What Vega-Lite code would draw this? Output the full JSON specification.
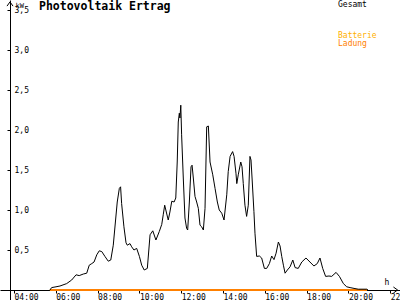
{
  "$schema": "https://vega.github.io/schema/vega-lite/v6.json",
  "width": 400,
  "height": 300,
  "autosize": {"type": "none"},
  "padding": 0,
  "background": "white",
  "config": {"view": {"stroke": null}, "font": "DejaVu Sans Mono"},
  "title": {"text": "Photovoltaik Ertrag", "anchor": "start", "frame": "group", "orient": "top", "offset": 0, "dx": 39, "dy": 13, "baseline": "top", "font": "DejaVu Sans Mono", "fontSize": 11.5, "fontWeight": "bold", "color": "black"},
  "datasets": {
    "gesamt": [
      {"t":5.72,"kw":0},{"t":5.80,"kw":0.03},{"t":6.01,"kw":0.04},{"t":6.20,"kw":0.05},{"t":6.52,"kw":0.08},{"t":6.76,"kw":0.125},{"t":6.97,"kw":0.19},{"t":7.12,"kw":0.18},{"t":7.32,"kw":0.20},{"t":7.48,"kw":0.21},{"t":7.60,"kw":0.31},{"t":7.72,"kw":0.33},{"t":7.83,"kw":0.35},{"t":7.96,"kw":0.44},{"t":8.08,"kw":0.49},{"t":8.20,"kw":0.48},{"t":8.35,"kw":0.42},{"t":8.51,"kw":0.36},{"t":8.63,"kw":0.375},{"t":8.75,"kw":0.56},{"t":8.94,"kw":1.10},{"t":9.04,"kw":1.27},{"t":9.10,"kw":1.29},{"t":9.15,"kw":1.08},{"t":9.26,"kw":0.79},{"t":9.36,"kw":0.59},{"t":9.42,"kw":0.56},{"t":9.55,"kw":0.58},{"t":9.63,"kw":0.54},{"t":9.74,"kw":0.50},{"t":9.87,"kw":0.52},{"t":10.00,"kw":0.42},{"t":10.11,"kw":0.31},{"t":10.23,"kw":0.25},{"t":10.38,"kw":0.27},{"t":10.51,"kw":0.69},{"t":10.64,"kw":0.74},{"t":10.79,"kw":0.625},{"t":10.95,"kw":0.73},{"t":11.07,"kw":0.82},{"t":11.14,"kw":0.94},{"t":11.21,"kw":1.06},{"t":11.31,"kw":0.95},{"t":11.38,"kw":0.875},{"t":11.46,"kw":0.975},{"t":11.55,"kw":1.11},{"t":11.66,"kw":1.10},{"t":11.74,"kw":1.15},{"t":11.81,"kw":1.60},{"t":11.86,"kw":2.10},{"t":11.91,"kw":2.21},{"t":11.94,"kw":2.15},{"t":11.98,"kw":2.31},{"t":12.02,"kw":1.94},{"t":12.10,"kw":1.40},{"t":12.18,"kw":0.90},{"t":12.26,"kw":0.77},{"t":12.31,"kw":0.75},{"t":12.39,"kw":1.10},{"t":12.47,"kw":1.54},{"t":12.52,"kw":1.56},{"t":12.58,"kw":1.40},{"t":12.66,"kw":1.17},{"t":12.74,"kw":1.10},{"t":12.82,"kw":1.02},{"t":12.90,"kw":0.81},{"t":12.98,"kw":0.79},{"t":13.06,"kw":0.75},{"t":13.14,"kw":1.02},{"t":13.22,"kw":2.04},{"t":13.30,"kw":2.05},{"t":13.38,"kw":1.60},{"t":13.51,"kw":1.44},{"t":13.62,"kw":1.27},{"t":13.73,"kw":1.10},{"t":13.82,"kw":1.00},{"t":13.94,"kw":0.96},{"t":14.05,"kw":0.875},{"t":14.18,"kw":1.19},{"t":14.25,"kw":1.48},{"t":14.34,"kw":1.67},{"t":14.46,"kw":1.73},{"t":14.53,"kw":1.67},{"t":14.62,"kw":1.46},{"t":14.66,"kw":1.33},{"t":14.73,"kw":1.44},{"t":14.85,"kw":1.60},{"t":14.91,"kw":1.54},{"t":14.97,"kw":1.33},{"t":15.05,"kw":1.06},{"t":15.13,"kw":0.92},{"t":15.21,"kw":1.06},{"t":15.29,"kw":1.67},{"t":15.34,"kw":1.625},{"t":15.39,"kw":1.40},{"t":15.48,"kw":0.98},{"t":15.53,"kw":0.71},{"t":15.61,"kw":0.42},{"t":15.74,"kw":0.425},{"t":15.85,"kw":0.40},{"t":15.98,"kw":0.27},{"t":16.09,"kw":0.27},{"t":16.22,"kw":0.33},{"t":16.33,"kw":0.425},{"t":16.44,"kw":0.38},{"t":16.54,"kw":0.46},{"t":16.65,"kw":0.60},{"t":16.73,"kw":0.55},{"t":16.81,"kw":0.42},{"t":16.89,"kw":0.31},{"t":16.97,"kw":0.21},{"t":17.08,"kw":0.25},{"t":17.21,"kw":0.29},{"t":17.34,"kw":0.375},{"t":17.45,"kw":0.28},{"t":17.60,"kw":0.27},{"t":17.77,"kw":0.35},{"t":17.97,"kw":0.40},{"t":18.16,"kw":0.35},{"t":18.35,"kw":0.30},{"t":18.51,"kw":0.33},{"t":18.64,"kw":0.40},{"t":18.77,"kw":0.27},{"t":18.91,"kw":0.17},{"t":19.07,"kw":0.175},{"t":19.20,"kw":0.17},{"t":19.41,"kw":0.22},{"t":19.57,"kw":0.17},{"t":19.76,"kw":0.08},{"t":19.92,"kw":0.04},{"t":20.08,"kw":0.03},{"t":20.27,"kw":0.02},{"t":20.47,"kw":0.01},{"t":20.88,"kw":0.01},{"t":20.94,"kw":0}
    ],
    "akku": [
      {"series":"Batterie","t":5.72,"kw":0},{"series":"Batterie","t":8,"kw":0},{"series":"Batterie","t":12,"kw":0},{"series":"Batterie","t":16,"kw":0},{"series":"Batterie","t":20.88,"kw":0},
      {"series":"Ladung","t":5.72,"kw":0},{"series":"Ladung","t":8,"kw":0},{"series":"Ladung","t":12,"kw":0},{"series":"Ladung","t":16,"kw":0},{"series":"Ladung","t":20.88,"kw":0}
    ]
  },
  "layer": [
    {
      "data": {"name": "akku"},
      "mark": {"type": "line", "strokeWidth": 2},
      "encoding": {
        "x": {"field": "t", "type": "quantitative", "scale": {"domain": [3.33, 22.469], "nice": false, "zero": false},
          "axis": {"values": [4,6,8,10,12,14,16,18,20,22], "labelExpr": "(datum.value < 10 ? '0' : '') + datum.value + ':00'", "orient": "bottom", "offset": -10, "domainColor": "black", "domainWidth": 1, "tickColor": "black", "tickSize": 3, "labelFont": "DejaVu Sans Mono", "labelFontSize": 8, "labelColor": "black", "labelAlign": "left", "labelDx": -3, "labelBaseline": "top", "labelPadding": 0, "labelOverlap": false, "labelBound": false, "labelFlush": false, "grid": false, "title": "h", "titleFont": "DejaVu Sans Mono", "titleFontSize": 8, "titleFontWeight": "normal", "titleColor": "black", "titleX": 384, "titleY": -12, "titleAlign": "left", "titleBaseline": "top"}},
        "y": {"field": "kw", "type": "quantitative", "scale": {"domain": [-0.125, 3.625], "nice": false, "zero": false},
          "axis": {"values": [0.5,1,1.5,2,2.5,3,3.5], "labelExpr": "replace(format(datum.value, '.1f'), '.', ',')", "orient": "left", "offset": -10, "domainColor": "black", "domainWidth": 1, "tickColor": "black", "tickSize": 3, "labelFont": "DejaVu Sans Mono", "labelFontSize": 8, "labelColor": "black", "labelAlign": "left", "labelBaseline": "middle", "labelPadding": -7, "labelOverlap": false, "labelBound": false, "labelFlush": false, "grid": false, "title": "kW", "titleFont": "DejaVu Sans Mono", "titleFontSize": 7, "titleFontWeight": "normal", "titleColor": "black", "titleAngle": 0, "titleX": 5, "titleY": 1, "titleAlign": "left", "titleBaseline": "top"}},
        "color": {"field": "series", "type": "nominal", "scale": {"domain": ["Batterie", "Ladung"], "range": ["#FFB000", "#FF8000"]},
          "legend": {"orient": "none", "legendX": 330, "legendY": 31.5, "title": null, "padding": 0, "symbolSize": 0, "symbolStrokeWidth": 0, "symbolOpacity": 0, "labelOffset": 0, "rowPadding": 0, "labelFont": "DejaVu Sans Mono", "labelFontSize": 8,
            "encode": {"labels": {"update": {"fill": {"signal": "datum.value === 'Batterie' ? '#FFB000' : '#FF8000'"}}}}}}
      }
    },
    {
      "data": {"name": "gesamt"},
      "mark": {"type": "line", "strokeWidth": 1},
      "encoding": {
        "x": {"field": "t", "type": "quantitative"},
        "y": {"field": "kw", "type": "quantitative"},
        "color": {"datum": "Gesamt", "scale": {"domain": ["Gesamt"], "range": ["black"]},
          "legend": {"orient": "none", "legendX": 330, "legendY": 0.5, "title": null, "padding": 0, "symbolSize": 0, "symbolStrokeWidth": 0, "symbolOpacity": 0, "labelOffset": 0, "rowPadding": 0, "labelFont": "DejaVu Sans Mono", "labelFontSize": 8, "labelColor": "black"}}
      }
    },
    {
      "data": {"values": [{"t": 3.8085, "kw": 3.575, "dir": "up"}, {"t": 22.254, "kw": 0, "dir": "right"}]},
      "mark": {"type": "point", "filled": false, "color": "black", "strokeWidth": 1, "size": 36, "opacity": 1},
      "encoding": {
        "x": {"field": "t", "type": "quantitative"},
        "y": {"field": "kw", "type": "quantitative"},
        "shape": {"field": "dir", "type": "nominal", "scale": {"domain": ["up", "right"], "range": ["M-1,0.7L0,-0.7L1,0.7", "M-0.7,-1L0.7,0L-0.7,1"]}, "legend": null}
      }
    }
  ],
  "resolve": {"scale": {"color": "independent"}}
}
